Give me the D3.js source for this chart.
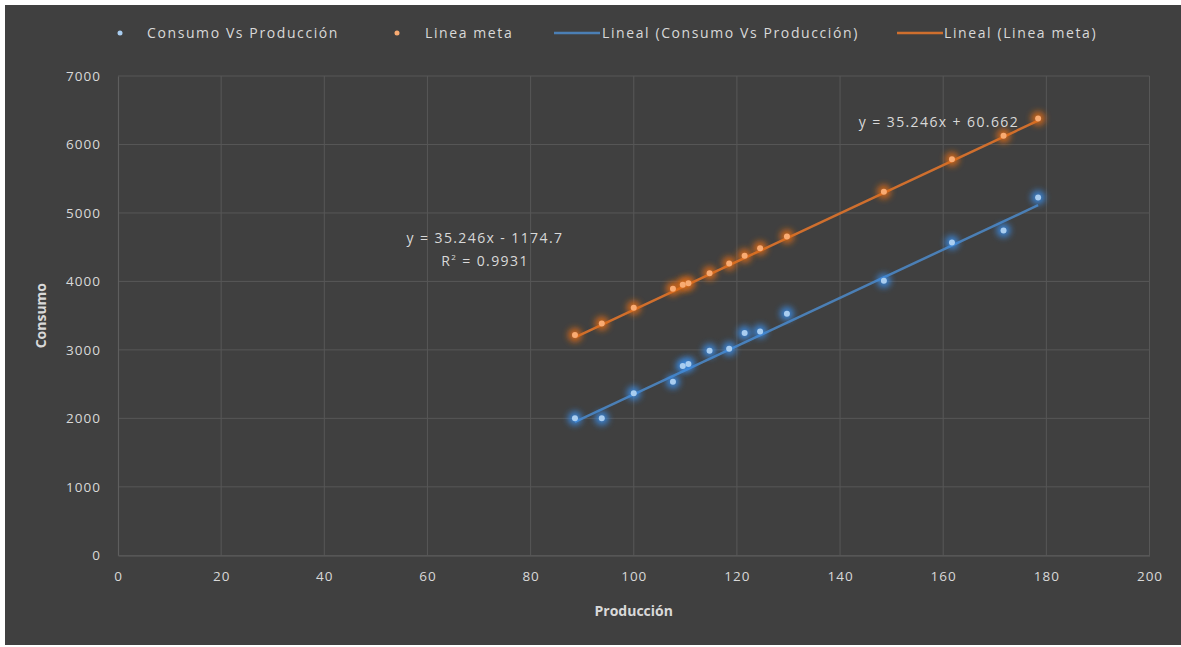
<!DOCTYPE html>
<html><head><meta charset="utf-8">
<script src="https://cdn.jsdelivr.net/npm/d3@7/dist/d3.min.js"></script>
<style>
html,body{margin:0;padding:0;background:#ffffff;}
svg{display:block;}
text{font-family:"Open Sans","DejaVu Sans",sans-serif;}
</style></head>
<body>
<svg id="chart" width="1181" height="647"></svg>
<script>
// ---- data ----
const produccion = [88.6, 93.8, 100, 107.6, 109.5, 110.6, 114.7, 118.5, 121.5, 124.5, 129.7, 148.5, 161.7, 171.7, 178.4];
const consumo    = [2000, 2000, 2365, 2534, 2764, 2793, 2987, 3016, 3245, 3270, 3527, 4009, 4569, 4745, 5226];
const lineaMeta  = [3216, 3387, 3615, 3892, 3950, 3975, 4121, 4263, 4374, 4486, 4657, 5308, 5785, 6126, 6380];
const trendSlope = [35.246, 35.246];
const trendIntercept = [-1174.7, 60.662];
const trendLabels = ["y = 35.246x - 1174.7", "y = 35.246x + 60.662"];
const xTicks = [0, 20, 40, 60, 80, 100, 120, 140, 160, 180, 200];
const yTicks = [0, 1000, 2000, 3000, 4000, 5000, 6000, 7000];
const seriesNames = ["Consumo Vs Producción", "Linea meta", "Lineal (Consumo Vs Producción)", "Lineal (Linea meta)"];
const xTitle = "Producción";
const yTitle = "Consumo";

// ---- styling ----
const bg = "#404040", grid = "#575757", textCol = "#d9d9d9";
const pointCol = ["#a9cdf0", "#f9ab72"];
const glowCol = ["#3a8ce6", "#e06c18"];
const lineCol = ["#4b7fb5", "#cf6f2e"];

const svg = d3.select("#chart");
svg.append("rect").attr("x",5).attr("y",5).attr("width",1176).attr("height",640).attr("fill",bg);

const defs = svg.append("defs");
const f = defs.append("filter").attr("id","glow").attr("x","-200%").attr("y","-200%").attr("width","500%").attr("height","500%");
f.append("feGaussianBlur").attr("stdDeviation",3);

const x = d3.scaleLinear().domain([0,200]).range([118, 1149.5]);
const y = d3.scaleLinear().domain([0,7000]).range([555.3, 76]);

// gridlines
svg.append("g").selectAll("line.v").data(xTicks.slice(1)).join("line")
  .attr("x1",d=>x(d)).attr("x2",d=>x(d)).attr("y1",y(7000)).attr("y2",y(0))
  .attr("stroke",grid).attr("stroke-width",1);
svg.append("g").selectAll("line.h").data(yTicks.slice(1)).join("line")
  .attr("x1",x(0)).attr("x2",x(200)).attr("y1",d=>y(d)).attr("y2",d=>y(d))
  .attr("stroke",grid).attr("stroke-width",1);

// axes
const xAxis = d3.axisBottom(x).tickValues(xTicks).tickSize(0).tickPadding(16).tickFormat(d3.format("d"));
const gx = svg.append("g").attr("transform",`translate(0,${y(0)})`).call(xAxis);
gx.select(".domain").attr("stroke","#5e5e5e").attr("stroke-width",1.2);
gx.selectAll("text").attr("fill",textCol).attr("font-size",13.5).attr("letter-spacing",1);

const yAxis = d3.axisLeft(y).tickValues(yTicks).tickSize(0).tickPadding(17).tickFormat(d3.format("d"));
const gy = svg.append("g").attr("transform",`translate(${x(0)},0)`).call(yAxis);
gy.select(".domain").attr("stroke","#5e5e5e").attr("stroke-width",1.2);
gy.selectAll("text").attr("fill",textCol).attr("font-size",13.5).attr("letter-spacing",1);

// axis titles
svg.append("text").attr("x",(x(0)+x(200))/2).attr("y",616).attr("text-anchor","middle")
  .attr("fill",textCol).attr("font-size",14).attr("font-weight","bold").text(xTitle);
svg.append("text").attr("transform",`translate(46,${(y(0)+y(7000))/2}) rotate(-90)`).attr("text-anchor","middle")
  .attr("fill",textCol).attr("font-size",14).attr("font-weight","bold").text(yTitle);

// trendlines
const ext = d3.extent(produccion);
[0,1].forEach(i=>{
  svg.append("line")
    .attr("x1",x(ext[0])).attr("y1",y(trendSlope[i]*ext[0]+trendIntercept[i]))
    .attr("x2",x(ext[1])).attr("y2",y(trendSlope[i]*ext[1]+trendIntercept[i]))
    .attr("stroke",lineCol[i]).attr("stroke-width",2.5);
});

// points with glow
const series = [consumo, lineaMeta];
series.forEach((vals,i)=>{
  const data = produccion.map((p,k)=>[p, vals[k]]);
  svg.append("g").selectAll("circle").data(data).join("circle")
    .attr("cx",d=>x(d[0])).attr("cy",d=>y(d[1])).attr("r",7)
    .attr("fill",glowCol[i]).attr("opacity",0.85).attr("filter","url(#glow)");
  svg.append("g").selectAll("circle").data(data).join("circle")
    .attr("cx",d=>x(d[0])).attr("cy",d=>y(d[1])).attr("r",3)
    .attr("fill",pointCol[i]);
});

// equation labels
svg.append("text").attr("x",485).attr("y",243).attr("text-anchor","middle")
  .attr("fill",textCol).attr("font-size",14).attr("letter-spacing",1.4).text(trendLabels[0]);
const r2 = svg.append("text").attr("x",485).attr("y",266).attr("text-anchor","middle")
  .attr("fill",textCol).attr("font-size",14).attr("letter-spacing",1.4);
r2.append("tspan").text("R");
r2.append("tspan").attr("dy",-6).attr("font-size",8).text("2");
r2.append("tspan").attr("dy",6).text(" = 0.9931");
svg.append("text").attr("x",939).attr("y",127).attr("text-anchor","middle")
  .attr("fill",textCol).attr("font-size",14).attr("letter-spacing",1.4).text(trendLabels[1]);

// legend
const lg = svg.append("g");
const items = [
  {type:"dot", c:pointCol[0], x:120, tx:147},
  {type:"dot", c:pointCol[1], x:397, tx:425},
  {type:"line", c:lineCol[0], x:554, tx:602},
  {type:"line", c:lineCol[1], x:897, tx:944}
];
items.forEach((it,i)=>{
  if(it.type==="dot"){
    lg.append("circle").attr("cx",it.x).attr("cy",33).attr("r",2.5).attr("fill",it.c);
  } else {
    lg.append("line").attr("x1",it.x).attr("x2",it.x+46).attr("y1",33).attr("y2",33)
      .attr("stroke",it.c).attr("stroke-width",2.5);
  }
  lg.append("text").attr("x",it.tx).attr("y",38).attr("fill",textCol).attr("font-size",14)
    .attr("letter-spacing",1.6).text(seriesNames[i]);
});
</script>
</body></html>
